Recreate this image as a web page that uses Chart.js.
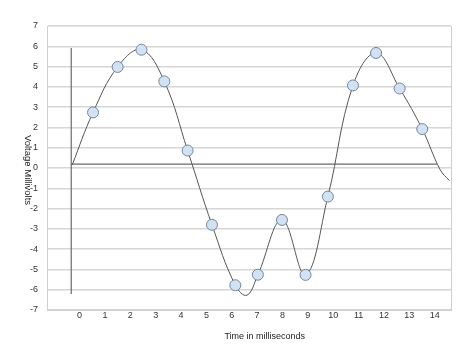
<!DOCTYPE html>
<html>
<head>
<meta charset="utf-8">
<script src="https://cdn.jsdelivr.net/npm/chart.js@4/dist/chart.umd.min.js"></script>
<style>
  html, body { margin: 0; padding: 0; background: #ffffff; }
  #wrap { width: 474px; height: 355px; position: relative; }
</style>
</head>
<body>
<div id="wrap"><canvas id="c" width="474" height="355"></canvas></div>
<script>
// ---- data ----
const xTickValues = [0, 1, 2, 3, 4, 5, 6, 7, 8, 9, 10, 11, 12, 13, 14];
const yTickValues = [-7, -6, -5, -4, -3, -2, -1, 0, 1, 2, 3, 4, 5, 6, 7];

// sampled points (with markers)
const markerX = [0.53, 1.50, 2.44, 3.34, 4.26, 5.22, 6.14, 7.03, 7.98, 8.91, 9.79, 10.78, 11.69, 12.62, 13.51];
const markerY = [2.74, 4.98, 5.83, 4.27, 0.86, -2.80, -5.78, -5.26, -2.56, -5.27, -1.41, 4.07, 5.67, 3.92, 1.92];

// smooth trace of the waveform
const curveX = [-0.29, 0.53, 1.50, 2.44, 3.34, 4.26, 5.22, 6.14, 6.60, 7.03, 7.98, 8.91, 9.79, 10.78, 11.69, 12.62, 13.51, 14.22, 14.58];
const curveY = [0.16, 2.74, 4.98, 5.83, 4.27, 0.86, -2.80, -5.78, -6.27, -5.26, -2.56, -5.27, -1.41, 4.07, 5.67, 3.92, 1.92, -0.09, -0.62];

// hand-drawn reference axes inside the plot
const refVertX = [-0.33, -0.33];
const refVertY = [5.92, -6.21];
const refHorzX = [-0.33, 14.09];
const refHorzY = [0.19, 0.19];

const xTitle = 'Time in milliseconds';
const yTitle = 'Voltage Millivolts';

const toPts = (xs, ys) => xs.map((x, i) => ({ x: x, y: ys[i] }));

const FONT = '"Liberation Sans", Arial, sans-serif';

const extras = {
  id: 'extras',
  beforeDatasetsDraw(chart) {
    const { ctx, chartArea } = chart;
    ctx.save();
    ctx.strokeStyle = '#cfcfcf';
    ctx.lineWidth = 1;
    ctx.beginPath();
    ctx.moveTo(Math.round(chartArea.right) + 0.5, chartArea.top);
    ctx.lineTo(Math.round(chartArea.right) + 0.5, chartArea.bottom);
    ctx.stroke();
    ctx.restore();
  },
  afterDraw(chart) {
    const { ctx, chartArea } = chart;
    const xs = chart.scales.x, ys = chart.scales.y;
    ctx.save();
    ctx.fillStyle = '#222222';
    ctx.font = '9px ' + FONT;
    ctx.textAlign = 'center';
    ctx.textBaseline = 'middle';
    ctx.fillText(xTitle, xs.getPixelForValue(7.3), chartArea.bottom + 27);
    ctx.translate(28, ys.getPixelForValue(0) + 2);
    ctx.rotate(Math.PI / 2);
    ctx.font = '9.5px ' + FONT;
    ctx.fillText(yTitle, 0, 0);
    ctx.restore();
  }
};

new Chart(document.getElementById('c'), {
  type: 'line',
  data: {
    datasets: [
      {
        data: toPts(markerX, markerY),
        showLine: false,
        pointRadius: 5.5,
        pointHoverRadius: 5.5,
        pointBackgroundColor: '#d3e2f2',
        pointBorderColor: '#6f86a0',
        pointBorderWidth: 1,
        order: 0
      },
      {
        data: toPts(curveX, curveY),
        borderColor: '#555555',
        borderWidth: 1,
        pointRadius: 0,
        tension: 0.4,
        fill: false,
        order: 1
      },
      {
        data: toPts(refVertX, refVertY),
        borderColor: '#6a6a6a',
        borderWidth: 1.2,
        pointRadius: 0,
        tension: 0,
        order: 2
      },
      {
        data: toPts(refHorzX, refHorzY),
        borderColor: '#6a6a6a',
        borderWidth: 1.2,
        pointRadius: 0,
        tension: 0,
        order: 2
      }
    ]
  },
  options: {
    responsive: false,
    animation: false,
    devicePixelRatio: 1,
    layout: { padding: { top: 26, right: 23, bottom: 0, left: 0 } },
    plugins: { legend: { display: false }, tooltip: { enabled: false } },
    scales: {
      x: {
        type: 'linear',
        min: -1.285,
        max: 14.645,
        afterBuildTicks(scale) { scale.ticks = xTickValues.map(v => ({ value: v })); },
        afterFit(scale) { scale.height = 45; },
        grid: { display: false, drawTicks: false },
        border: { display: true, color: '#cfcfcf', width: 1 },
        ticks: { padding: 0, color: '#333333', font: { family: FONT, size: 9 }, maxRotation: 0, autoSkip: false }
      },
      y: {
        type: 'linear',
        min: -7,
        max: 7,
        afterBuildTicks(scale) { scale.ticks = yTickValues.map(v => ({ value: v })); },
        afterFit(scale) { scale.width = 47; },
        grid: { color: '#d6d6d6', lineWidth: 1.5, drawTicks: false },
        border: { display: true, color: '#cfcfcf', width: 1 },
        ticks: { padding: 9, color: '#333333', font: { family: FONT, size: 9 }, autoSkip: false }
      }
    }
  },
  plugins: [extras]
});
</script>
</body>
</html>
